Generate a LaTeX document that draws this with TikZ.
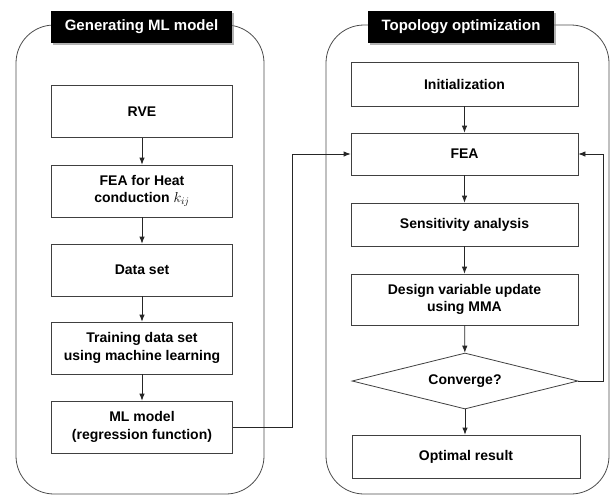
\documentclass[tikz,border=0pt]{standalone}
\usepackage{fontspec}
\setmainfont{Liberation Sans}
\usetikzlibrary{shapes.geometric,shadows,arrows.meta}
\begin{document}
\begin{tikzpicture}[x=1pt,y=-1pt,>={Latex[length=7pt,width=5.5pt]},
  font=\bfseries\fontsize{14}{17.3}\selectfont,
  panel/.style={draw=black!70,line width=0.8pt,rounded corners=38pt},
  header/.style={fill=black,text=white,minimum height=32pt,inner sep=0pt,font=\bfseries\fontsize{15}{18}\selectfont,drop shadow={shadow xshift=1.5pt,shadow yshift=-1.5pt,fill=black!50,opacity=0.6}},
  stepbox/.style={draw=black!75,line width=0.8pt,fill=white,align=center,inner sep=0pt},
  leftbox/.style={stepbox,minimum width=181pt,minimum height=52pt},
  rightbox/.style={stepbox,minimum width=227pt},
  flow/.style={->,draw=black!85,line width=0.8pt}]
		\useasboundingbox (0,0) rectangle (610,496);
		\draw[panel] (16,25) rectangle (264,494);
		\draw[panel] (326,25) rectangle (609,494);
		\node[header,minimum width=181pt] (hml) at (141.5,27) {Generating ML model};
		\node[header,minimum width=186pt] (hto) at (461,27) {Topology optimization};
		\node[leftbox] (rve) at (142,111.5) {RVE};
		\node[leftbox] (feah) at (142,191) {FEA for Heat\\conduction $k_{ij}$};
		\node[leftbox] (data) at (142,270) {Data set};
		\node[leftbox] (train) at (142,348) {Training data set\\using machine learning};
		\node[leftbox] (ml) at (142,427) {ML model\\(regression function)};
		\node[rightbox,minimum height=44pt] (init) at (464.5,84) {Initialization};
		\node[rightbox,minimum height=42pt] (fea) at (464.5,154) {FEA};
		\node[rightbox,minimum height=43pt] (sens) at (464.5,224.5) {Sensitivity analysis};
		\node[rightbox,minimum height=51pt] (dvu) at (464.5,299.5) {Design variable update\\using MMA};
		\node[stepbox,diamond,aspect=4,minimum width=226pt,minimum height=56pt] (conv) at (465,381) {Converge?};
		\node[rightbox,minimum height=43pt,minimum width=228pt] (opt) at (466,456.5) {Optimal result};
		\coordinate (lk) at (292,427);
		\coordinate (fb) at (603,381);
		\draw[flow] (rve) -- (feah);
		\draw[flow] (feah) -- (data);
		\draw[flow] (data) -- (train);
		\draw[flow] (train) -- (ml);
		\draw[flow] (ml.east) -- (lk) |- (fea.west);
		\draw[flow] (init) -- (fea);
		\draw[flow] (fea) -- (sens);
		\draw[flow] (sens) -- (dvu);
		\draw[flow] (dvu) -- (conv);
		\draw[flow] (conv) -- (conv |- opt.north);
		\draw[flow] (conv.east) -- (fb) |- (fea.east);
\end{tikzpicture}
\end{document}
